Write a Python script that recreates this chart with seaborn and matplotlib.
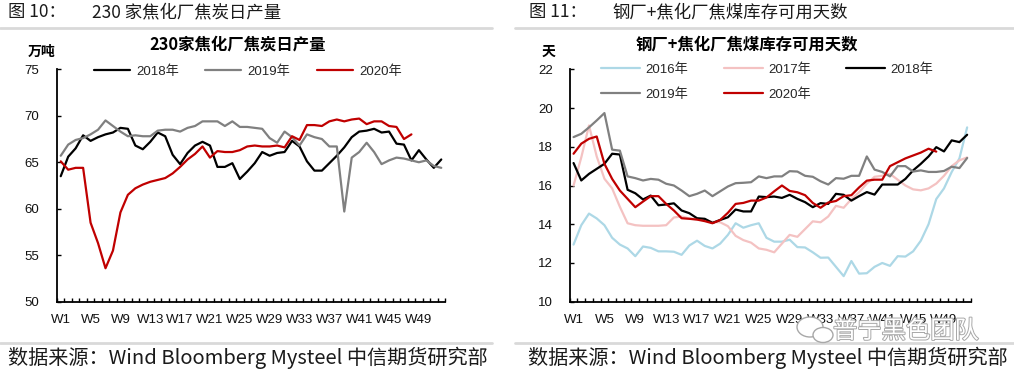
import numpy as np
import pandas as pd
import matplotlib
matplotlib.use("Agg")
import matplotlib.pyplot as plt
import seaborn as sns
from matplotlib.lines import Line2D
from matplotlib.patches import Ellipse
import matplotlib.patheffects as pe

# ---------------- data ----------------
weeks = [f"W{i}" for i in range(1, 53)]
tick_labels = weeks[::4]

coke_years = ["2018年", "2019年", "2020年"]
coke_2018 = [63.5, 65.6, 66.5, 67.9, 67.3, 67.7, 68.0, 68.2, 68.7, 68.6, 66.8, 66.4, 67.2, 68.2, 67.8,
             65.8, 64.8, 66.0, 66.8, 67.2, 66.8, 64.5, 64.5, 64.9, 63.2, 64.0, 64.9, 66.1, 65.7, 66.0,
             66.1, 67.3, 66.7, 65.1, 64.1, 64.1, 64.9, 65.7, 66.6, 67.7, 68.3, 68.4, 68.6, 68.2, 68.3,
             67.0, 66.9, 65.2, 66.3, 65.3, 64.4, 65.3]
coke_2019 = [65.7, 66.9, 67.4, 67.6, 68.0, 68.5, 69.5, 68.9, 68.3, 67.8, 67.9, 67.8, 67.8, 68.4, 68.5,
             68.5, 68.3, 68.7, 68.9, 69.4, 69.4, 69.4, 68.9, 69.4, 68.8, 68.8, 68.7, 68.6, 67.6, 67.1,
             68.3, 67.7, 66.8, 68.0, 67.7, 67.5, 66.7, 66.7, 59.7, 65.5, 66.1, 67.1, 66.1, 64.8, 65.2,
             65.5, 65.4, 65.2, 65.0, 65.2, 64.6, 64.4]
coke_2020 = [65.1, 64.2, 64.4, 64.4, 58.5, 56.3, 53.6, 55.5, 59.6, 61.5, 62.2, 62.6, 62.9, 63.1, 63.3,
             63.8, 64.5, 65.3, 65.9, 66.7, 65.5, 66.2, 66.1, 66.1, 66.3, 66.7, 66.8, 66.7, 66.7, 66.8,
             66.6, 67.8, 67.4, 69.0, 69.0, 68.9, 69.4, 69.6, 69.4, 69.6, 69.7, 69.1, 69.4, 69.4, 68.9,
             68.8, 67.5, 68.0]

days_years = ["2016年", "2017年", "2018年", "2019年", "2020年"]
days_2016 = [12.95, 13.95, 14.55, 14.3, 13.95, 13.3, 12.95, 12.75, 12.35, 12.85, 12.78, 12.6, 12.6,
             12.58, 12.42, 12.9, 13.15, 12.88, 12.75, 13.0, 13.45, 14.05, 13.82, 13.95, 14.05, 13.3,
             13.1, 13.1, 13.2, 12.82, 12.8, 12.55, 12.27, 12.28, 11.8, 11.32, 12.1, 11.45, 11.47, 11.8,
             12.0, 11.85, 12.35, 12.33, 12.6, 13.15, 14.0, 15.3, 15.85, 16.7, 17.4, 19.0]
days_2017 = [16.0, 17.45, 19.1, 17.5, 16.35, 15.85, 14.9, 14.05, 13.95, 13.92, 13.92, 13.92, 13.95,
             14.35, 14.4, 14.3, 14.25, 14.22, 14.12, 14.1, 13.9, 13.4, 13.18, 13.05, 12.75, 12.68,
             12.55, 13.0, 13.45, 13.35, 13.75, 14.15, 14.1, 14.4, 14.95, 14.85, 15.3, 15.65, 16.1,
             16.45, 16.5, 16.6, 16.3, 16.0, 15.8, 15.75, 15.85, 16.1, 16.5, 17.0, 17.3, 17.45]
days_2018 = [17.16, 16.26, 16.6, 16.86, 17.12, 17.64, 17.6, 15.78, 15.6, 15.28, 15.48, 14.98, 15.02,
             15.08, 14.71, 14.57, 14.31, 14.28, 14.07, 14.22, 14.36, 14.76, 14.66, 14.66, 15.43, 15.4,
             15.43, 15.36, 15.52, 15.31, 15.14, 14.88, 15.09, 15.05, 15.57, 15.52, 15.22, 15.45, 15.66,
             15.53, 16.05, 16.05, 16.05, 16.34, 16.78, 17.12, 17.5, 17.98, 17.76, 18.33, 18.24, 18.62]
days_2019 = [18.5, 18.67, 19.0, 19.36, 19.74, 17.85, 17.8, 16.47, 16.38, 16.26, 16.34, 16.3, 16.09,
             16.0, 15.74, 15.45, 15.57, 15.74, 15.45, 15.7, 15.95, 16.12, 16.14, 16.17, 16.47, 16.38,
             16.47, 16.47, 16.74, 16.72, 16.5, 16.45, 16.22, 16.05, 16.38, 16.35, 16.5, 16.5, 17.5,
             16.82, 16.7, 16.47, 17.0, 17.0, 16.72, 16.78, 16.7, 16.7, 16.75, 16.97, 16.9, 17.42]
days_2020 = [17.64, 18.16, 18.41, 18.53, 17.12, 16.34, 15.74, 15.31, 14.88, 15.17, 15.45, 15.45, 15.05,
             14.71, 14.31, 14.28, 14.24, 14.16, 14.05, 14.22, 14.59, 15.05, 15.1, 15.22, 15.22, 15.38,
             15.7, 16.0, 15.72, 15.65, 15.5, 15.1, 14.85, 15.12, 15.2, 15.45, 15.5, 15.9, 16.25, 16.3,
             16.3, 17.0, 17.2, 17.4, 17.55, 17.7, 17.9, 17.75]

coke_yticks = [50, 55, 60, 65, 70, 75]
days_yticks = [10, 12, 14, 16, 18, 20, 22]

# ---------------- style ----------------
sns.set_theme(style="white")
CJK = ["Noto Sans CJK SC", "DejaVu Sans"]
TICKF = ["Liberation Sans", "Noto Sans CJK SC", "DejaVu Sans"]
plt.rcParams["font.family"] = TICKF

W, H = 1014, 375
fig = plt.figure(figsize=(W / 100, H / 100), dpi=100)
fig.patch.set_facecolor("white")


def ft(x, y, s, **kw):
    return fig.text(x / W, 1 - y / H, s, **kw)


def px_axes(x0, y0, x1, y1):
    return fig.add_axes([x0 / W, 1 - y1 / H, (x1 - x0) / W, (y1 - y0) / H])


def draw_panel(ax, series, names, colors, ylim, yticks, ypad):
    for vals, name, col in zip(series, names, colors):
        df = pd.DataFrame({"week": np.arange(len(vals)), "value": vals})
        sns.lineplot(data=df, x="week", y="value", ax=ax, color=col, lw=1.6,
                     label=name, legend=False)
    ax.set_xlim(-0.5, 51.5)
    ax.set_ylim(*ylim)
    ax.set_yticks(yticks)
    ax.set_xticks(np.arange(0, 52, 4))
    ax.set_xticklabels(tick_labels)
    ax.set_xticks(np.arange(-0.5, 52, 1), minor=True)
    ax.tick_params(axis="x", which="major", bottom=True, length=0, pad=9, labelsize=9.5,
                   labelcolor="#111111")
    ax.tick_params(axis="x", which="minor", bottom=True, direction="in", length=3,
                   width=1, color="black")
    ax.tick_params(axis="y", which="major", left=True, direction="in", length=3, width=1,
                   color="black", pad=ypad, labelsize=9.5, labelcolor="#111111")
    for s in ["top", "right"]:
        ax.spines[s].set_visible(False)
    for s in ["left", "bottom"]:
        ax.spines[s].set_color("black")
        ax.spines[s].set_linewidth(1.3)
    ax.set_xlabel("")
    ax.set_ylabel("")
    ax.set_facecolor("none")
    ax.grid(False)


# ---------------- left panel ----------------
axL = px_axes(57, 69.3, 445, 301.7)
draw_panel(axL, [coke_2018, coke_2019, coke_2020], coke_years,
           ["#000000", "#808080", "#C00000"], (50, 75), coke_yticks, 13)
axL.legend(handles=list(axL.lines), labels=coke_years, loc="upper left",
           bbox_to_anchor=(94 / W, 1 - 65 / H), bbox_transform=fig.transFigure,
           ncol=3, frameon=False, handlelength=2.7, handletextpad=0.5, columnspacing=2.0,
           borderpad=0, borderaxespad=0, prop={"family": TICKF, "size": 9.5})

# ---------------- right panel ----------------
axR = px_axes(569.7, 69.3, 971, 301.7)
draw_panel(axR, [days_2016, days_2017, days_2018, days_2019, days_2020], days_years,
           ["#ADD8E6", "#F4C2C2", "#000000", "#808080", "#C00000"], (10, 22), days_yticks, 12)
lines = list(axR.lines)
order = [0, 3, 1, 4, 2]
axR.legend(handles=[lines[i] for i in order], labels=[days_years[i] for i in order],
           loc="upper left", bbox_to_anchor=(601 / W, 1 - 63 / H), bbox_transform=fig.transFigure,
           ncol=3, frameon=False, handlelength=2.95, handletextpad=0.4, columnspacing=2.7,
           labelspacing=0.95, borderpad=0, borderaxespad=0, prop={"family": TICKF, "size": 9.5})

# ---------------- texts ----------------
ft(8, 12, "图 10：", ha="left", va="center", size=12.5, family=CJK, color="#1a1a1a")
ft(92, 12, "230 家焦化厂焦炭日产量", ha="left", va="center", size=12.5, family=CJK, color="#1a1a1a")
ft(529, 12, "图 11：", ha="left", va="center", size=12.5, family=CJK, color="#1a1a1a")
ft(612, 12, "钢厂+焦化厂焦煤库存可用天数", ha="left", va="center", size=12.5, family=CJK,
   color="#1a1a1a")

ft(238, 45, "230家焦化厂焦炭日产量", ha="center", va="center", size=11.8, weight="bold",
   family=CJK, color="black")
ft(747, 45, "钢厂+焦化厂焦煤库存可用天数", ha="center", va="center", size=11.8, weight="bold",
   family=CJK, color="black")
ft(28, 52, "万吨", ha="left", va="center", size=10, weight="bold", family=CJK, color="black")
ft(542, 52, "天", ha="left", va="center", size=10, weight="bold", family=CJK, color="black")

foot = "数据来源：Wind Bloomberg Mysteel 中信期货研究部"
ft(8, 358, foot, ha="left", va="center", size=14.5, family=CJK, color="#1a1a1a")
ft(528, 358, foot, ha="left", va="center", size=14.5, family=CJK, color="#1a1a1a")

# separator lines
for (xa, xb) in [(0, 492), (515, 1014)]:
    for yy in (28, 343):
        fig.add_artist(Line2D([xa / W, xb / W], [1 - yy / H] * 2, transform=fig.transFigure,
                              color="#D9D9D9", lw=2))

# watermark
wm = ft(833, 331, "普宁黑色团队", ha="left", va="center", size=17.5, family=CJK, color="white",
        zorder=10)
wm.set_path_effects([pe.Stroke(linewidth=1.4, foreground="#A8A8A8"), pe.Normal()])
for (cx, cy, rw, rh) in [(810, 327, 26, 20), (823, 335, 20, 15)]:
    e = Ellipse((cx / W, 1 - cy / H), rw / W, rh / H, transform=fig.transFigure,
                facecolor="white", edgecolor="#A8A8A8", lw=1.0, zorder=9)
    fig.add_artist(e)

fig.savefig("out.png", dpi=100, facecolor="white")
